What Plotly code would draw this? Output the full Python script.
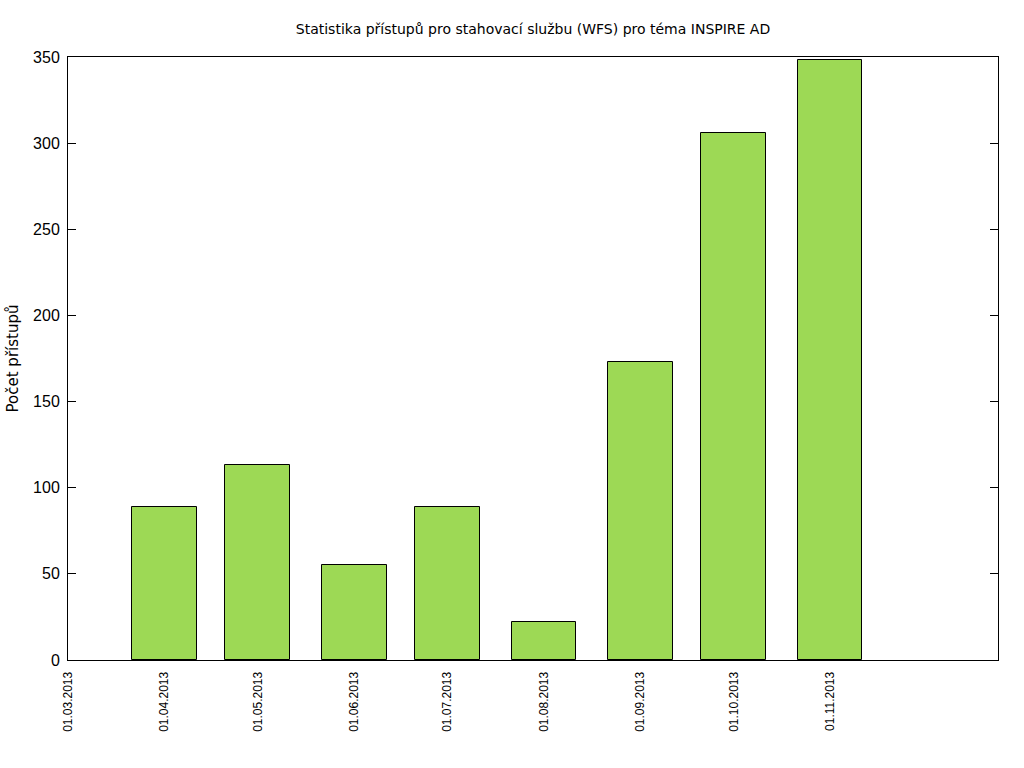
import plotly.graph_objects as go

dates = ["2013-04-01", "2013-05-01", "2013-06-01", "2013-07-01",
         "2013-08-01", "2013-09-01", "2013-10-01", "2013-11-01"]
values = [89, 113, 55, 89, 22, 173, 306, 348]

tick_dates = ["2013-03-01", "2013-04-01", "2013-05-01", "2013-06-01", "2013-07-01",
              "2013-08-01", "2013-09-01", "2013-10-01", "2013-11-01"]
tick_labels = ["01.03.2013", "01.04.2013", "01.05.2013", "01.06.2013", "01.07.2013",
               "01.08.2013", "01.09.2013", "01.10.2013", "01.11.2013"]
y_ticks = [0, 50, 100, 150, 200, 250, 300, 350]

DAY_MS = 86400000
FONT = "Liberation Sans"
FONT2 = "DejaVu Sans"

fig = go.Figure()
fig.add_trace(go.Bar(
    x=dates, y=values,
    width=[20.8 * DAY_MS] * len(dates),
    marker=dict(color="#9dd955", line=dict(color="black", width=1)),
    showlegend=False,
))

fig.update_layout(
    width=1024, height=768,
    margin=dict(l=68, r=26, t=57, b=108, pad=0),
    paper_bgcolor="white", plot_bgcolor="white",
    font=dict(family=FONT, color="black"),
    title=dict(text="Statistika přístupů pro stahovací službu (WFS) pro téma INSPIRE AD",
               x=0.5, xref="paper", xanchor="center", y=1 - 29 / 768, yanchor="middle",
               font=dict(size=14, family=FONT2, color="black")),
    bargap=0,
)
fig.update_xaxes(
    type="date", range=["2013-03-01", "2013-12-25"],
    tickmode="array", tickvals=tick_dates, ticktext=tick_labels,
    tickangle=-90, tickfont=dict(size=12, family=FONT),
    ticks="", showgrid=False, zeroline=False,
    showline=True, linecolor="black", linewidth=1, mirror=True,
    ticklabelstandoff=6,
)
fig.update_yaxes(
    range=[0, 350], tickmode="array", tickvals=y_ticks,
    ticks="inside", ticklen=8, tickcolor="black",
    tickfont=dict(size=16, family=FONT),
    showgrid=False, zeroline=False,
    showline=True, linecolor="black", linewidth=1, mirror="ticks",
    ticklabelstandoff=4,
    title=dict(text="Počet přístupů", font=dict(size=15, family=FONT2), standoff=10),
)

fig.write_html("out.html")
